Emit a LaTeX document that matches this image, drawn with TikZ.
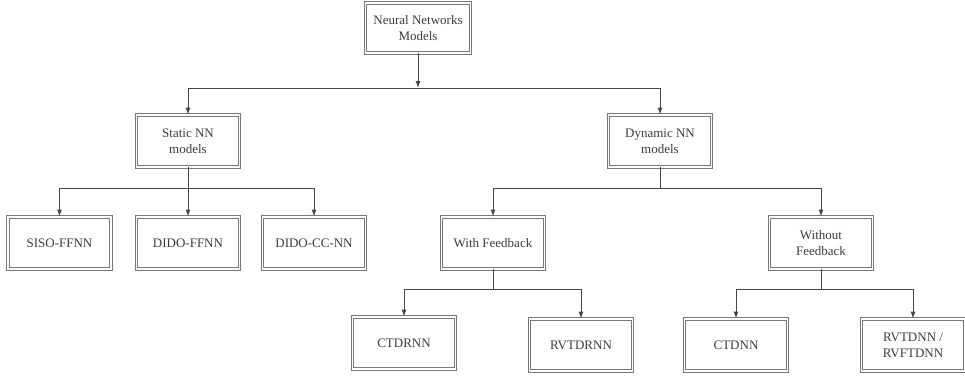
\documentclass[tikz,border=0pt]{standalone}
\usepackage{fontspec}
\setmainfont{Liberation Serif}
\usetikzlibrary{arrows.meta}

\definecolor{boxgray}{RGB}{120,120,120}
\definecolor{linegray}{RGB}{70,70,70}
\definecolor{txtgray}{RGB}{60,60,60}

\begin{document}
\begin{tikzpicture}[x=1pt, y=-1pt,
  nnbox/.style={draw=boxgray, double=white, double distance=1.3pt, line width=0.9pt,
    minimum width=103pt, minimum height=52pt, align=center, inner sep=2pt,
    text=txtgray, font=\fontsize{13}{16}\selectfont},
  link/.style={draw=linegray, line width=0.9pt},
  conn/.style={link, -{Latex[length=7pt, width=5pt]}}]

  %% ==== boxes ====
  \node[nnbox, minimum width=105pt, minimum height=50pt] (root) at (418,28) {Neural Networks\\Models};

  \node[nnbox] (static)  at (188,141) {Static NN\\models};
  \node[nnbox] (dynamic) at (660,141) {Dynamic NN\\models};

  \node[nnbox] (siso)   at (59.5,243) {SISO-FFNN};
  \node[nnbox] (dido)   at (188,243)  {DIDO-FFNN};
  \node[nnbox] (didocc) at (314,243)  {DIDO-CC-NN};

  \node[nnbox] (withfb)    at (493,243) {With Feedback};
  \node[nnbox] (withoutfb) at (821,243) {Without\\Feedback};

  \node[nnbox] (ctdrnn)  at (404,343) {CTDRNN};
  \node[nnbox] (rvtdrnn) at (581,345) {RVTDRNN};
  \node[nnbox] (ctdnn)   at (736,345) {CTDNN};
  \node[nnbox] (rvtdnn)  at (913,345) {RVTDNN /\\RVFTDNN};

  %% ==== branch points ====
  \coordinate (broot) at (418,88);
  \coordinate (bstat) at (188,188);
  \coordinate (bdyn)  at (660,188);
  \coordinate (bwith) at (493,289);
  \coordinate (bwout) at (821,289);

  %% ==== connectors ====
  \draw[conn] (root.south) -- (broot);
  \draw[conn] (broot) -| (static.north);
  \draw[conn] (broot) -| (dynamic.north);

  \draw[link] (static.south) -- (bstat);
  \draw[conn] (bstat) -| (siso.north);
  \draw[conn] (bstat) -- (dido.north);
  \draw[conn] (bstat) -| (didocc.north);

  \draw[link] (dynamic.south) -- (bdyn);
  \draw[conn] (bdyn) -| (withfb.north);
  \draw[conn] (bdyn) -| (withoutfb.north);

  \draw[link] (withfb.south) -- (bwith);
  \draw[conn] (bwith) -| (ctdrnn.north);
  \draw[conn] (bwith) -| (rvtdrnn.north);

  \draw[link] (withoutfb.south) -- (bwout);
  \draw[conn] (bwout) -| (ctdnn.north);
  \draw[conn] (bwout) -| (rvtdnn.north);

  % fix the canvas
  \pgfresetboundingbox
  \path[use as bounding box] (0,0) rectangle (965,375);
\end{tikzpicture}
\end{document}
